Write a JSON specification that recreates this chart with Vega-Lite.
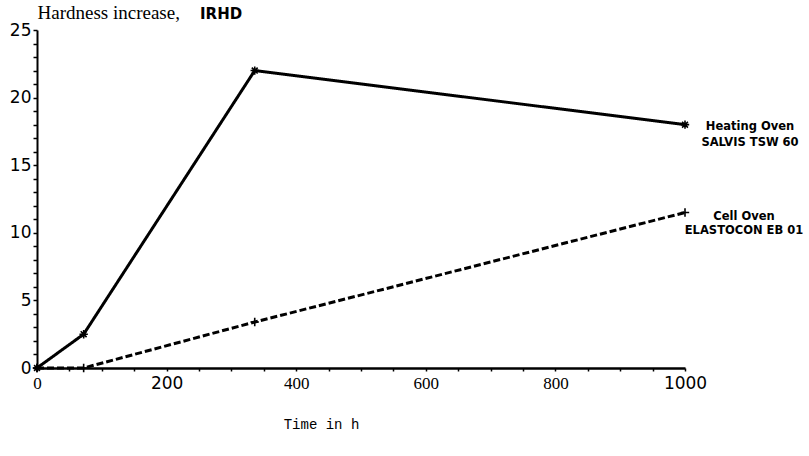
{
  "$schema": "https://vega.github.io/schema/vega-lite/v6.json",
  "width": 648,
  "height": 338,
  "autosize": {"type": "none"},
  "padding": {"left": 37, "top": 30, "right": 124, "bottom": 88},
  "background": "white",
  "config": {
    "view": {"stroke": null},
    "axis": {"grid": false, "domainColor": "black", "tickColor": "black", "labelColor": "black", "titleColor": "black"}
  },
  "title": {
    "text": "IRHD",
    "anchor": "start",
    "frame": "group",
    "dx": 163,
    "dy": 26,
    "offset": 0,
    "baseline": "middle",
    "font": "DejaVu Sans",
    "fontSize": 15,
    "fontWeight": "bold",
    "color": "black"
  },
  "datasets": {
    "curves": [
      {"series": "Heating Oven", "time": 0, "value": 0},
      {"series": "Heating Oven", "time": 72, "value": 2.5},
      {"series": "Heating Oven", "time": 336, "value": 22},
      {"series": "Heating Oven", "time": 1000, "value": 18},
      {"series": "Cell Oven", "time": 0, "value": 0},
      {"series": "Cell Oven", "time": 72, "value": 0},
      {"series": "Cell Oven", "time": 336, "value": 3.4},
      {"series": "Cell Oven", "time": 1000, "value": 11.5}
    ],
    "endLabels": [
      {"series": "Heating Oven", "time": 1000, "value": 18, "label": "Heating Oven\nSALVIS TSW 60"},
      {"series": "Cell Oven", "time": 1000, "value": 11.5, "label": "Cell Oven\nELASTOCON EB 01"}
    ]
  },
  "encoding": {
    "x": {
      "field": "time",
      "type": "quantitative",
      "scale": {"domain": [0, 1000], "nice": false},
      "axis": {
        "title": "Time in h",
        "titleFont": "Liberation Mono",
        "titleFontSize": 14,
        "titleFontWeight": "normal",
        "titleX": 284,
        "titleY": 56,
        "titleAlign": "center",
        "titleBaseline": "middle",
        "values": [0, 50, 100, 150, 200, 250, 300, 350, 400, 450, 500, 550, 600, 650, 700, 750, 800, 850, 900, 950, 1000],
        "format": "d",
        "labelExpr": "datum.value % 200 === 0 ? datum.label : ''",
        "labelFont": {"condition": {"test": "datum.value === 200 || datum.value === 1000", "value": "DejaVu Sans"}, "value": "Liberation Serif"},
        "labelFontSize": 17,
        "labelPadding": 4,
        "labelFlush": false,
        "labelOverlap": false,
        "domainWidth": 2.5,
        "tickSize": 3,
        "tickWidth": 1.5
      }
    },
    "y": {
      "field": "value",
      "type": "quantitative",
      "scale": {"domain": [0, 25], "nice": false},
      "axis": {
        "title": "Hardness increase,",
        "titleFont": "Liberation Serif",
        "titleFontSize": 19,
        "titleFontWeight": "normal",
        "titleAngle": 0,
        "titleX": 0,
        "titleY": -18,
        "titleAlign": "left",
        "titleBaseline": "middle",
        "values": [0, 1, 2, 3, 4, 5, 6, 7, 8, 9, 10, 11, 12, 13, 14, 15, 16, 17, 18, 19, 20, 21, 22, 23, 24, 25],
        "labelExpr": "datum.value % 5 === 0 ? datum.label : ''",
        "labelFont": "DejaVu Sans",
        "labelFontSize": 17,
        "labelPadding": 2,
        "labelFlush": false,
        "labelOverlap": false,
        "domainWidth": 2,
        "tickSize": 4,
        "tickWidth": 1.5
      }
    }
  },
  "layer": [
    {
      "data": {"name": "curves"},
      "mark": {"type": "line", "color": "black", "strokeWidth": 3},
      "encoding": {
        "detail": {"field": "series"},
        "strokeDash": {
          "field": "series",
          "type": "nominal",
          "scale": {"domain": ["Heating Oven", "Cell Oven"], "range": [[1, 0], [7, 3]]},
          "legend": null
        }
      }
    },
    {
      "data": {"name": "curves"},
      "mark": {"type": "point", "filled": false, "color": "black", "strokeWidth": 1.6, "size": 70, "opacity": 1},
      "encoding": {
        "shape": {
          "field": "series",
          "type": "nominal",
          "scale": {
            "domain": ["Heating Oven", "Cell Oven"],
            "range": ["M-1,0L1,0M0,-1L0,1M-0.7,-0.7L0.7,0.7M-0.7,0.7L0.7,-0.7", "M-1,0L1,0M0,-1L0,1"]
          },
          "legend": null
        }
      }
    },
    {
      "data": {"name": "endLabels"},
      "transform": [{"filter": "datum.series === 'Heating Oven'"}],
      "mark": {"type": "text", "align": "center", "baseline": "middle", "dx": 65, "dy": 2, "lineBreak": "\n", "lineHeight": 16, "font": "DejaVu Sans", "fontSize": 11.5, "fontWeight": "bold", "color": "black"},
      "encoding": {
        "text": {"field": "label"}
      }
    },
    {
      "data": {"name": "endLabels"},
      "transform": [{"filter": "datum.series === 'Cell Oven'"}],
      "mark": {"type": "text", "align": "center", "baseline": "middle", "dx": 59, "dy": 4, "lineBreak": "\n", "lineHeight": 14, "font": "DejaVu Sans", "fontSize": 11.5, "fontWeight": "bold", "color": "black"},
      "encoding": {
        "text": {"field": "label"}
      }
    }
  ]
}
